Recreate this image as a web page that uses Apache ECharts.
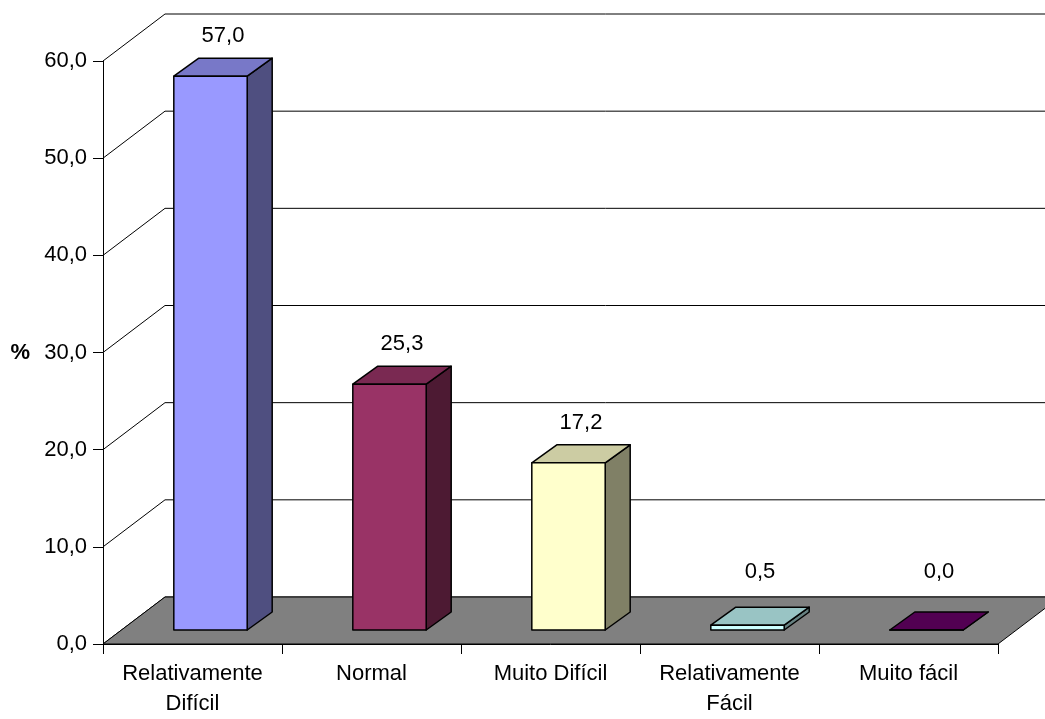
<!DOCTYPE html>
<html>
<head>
<meta charset="utf-8">
<script src="https://cdn.jsdelivr.net/npm/echarts@6/dist/echarts.min.js"></script>
<style>
html, body { margin: 0; background: #fff; }
#chart { width: 1045px; height: 719px; }
</style>
</head>
<body>
<div id="chart"></div>
<script>
var categories = ['Relativamente\nDifícil', 'Normal', 'Muito Difícil', 'Relativamente\nFácil', 'Muito fácil'];
var percents = [57.0, 25.3, 17.2, 0.5, 0.0];
var yTicks = [0, 10, 20, 30, 40, 50, 60];

// front, top, side shades for each bar
var palette = [
    ['#9999FF', '#7878C8', '#4F4F80'],
    ['#993366', '#7A2952', '#4D1A33'],
    ['#FFFFCC', '#CCCCA3', '#808066'],
    ['#CCFFFF', '#99C4C4', '#668080'],
    ['#660066', '#520052', '#330033']
];

var FONT = '"Liberation Sans", Arial, sans-serif';
var FS = 22;
var DX = 62, DY = -47;      // depth of the floor / walls
var FX = 18, FY = -14;      // bar front face shift
var BX = 25, BY = -18;      // bar depth

function fmt(v) {
    return v.toFixed(1).replace('.', ',');
}

var mychart = echarts.init(document.getElementById('chart'), null, { renderer: 'canvas' });

var option = {
    backgroundColor: '#fff',
    animation: false,
    grid: { left: 103, right: 47, top: 61, bottom: 74 },
    xAxis: {
        type: 'category',
        data: categories,
        axisLine: { lineStyle: { color: '#000', width: 1 } },
        axisTick: { show: true, length: 10, lineStyle: { color: '#000' } },
        axisLabel: { color: '#000', fontSize: FS, fontFamily: FONT, lineHeight: 30, margin: 15, interval: 0 },
        splitLine: { show: false }
    },
    yAxis: {
        type: 'value',
        min: 0,
        max: 60,
        interval: 10,
        name: '%',
        nameLocation: 'middle',
        nameRotate: 0,
        nameGap: 73,
        nameTextStyle: { color: '#000', fontSize: FS, fontWeight: 'bold', fontFamily: FONT },
        axisLine: { show: true, lineStyle: { color: '#000', width: 1 } },
        axisTick: { show: true, length: 10, lineStyle: { color: '#000' } },
        axisLabel: { color: '#000', fontSize: FS, fontFamily: FONT, margin: 16, formatter: fmt },
        splitLine: { show: false }
    },
    series: [
        {
            // back wall gridlines
            type: 'custom',
            silent: true,
            z: 1,
            data: yTicks.map(function (v) { return [0, v]; }),
            renderItem: function (params, api) {
                var cs = params.coordSys;
                var y = api.coord([0, api.value(1)])[1];
                return {
                    type: 'polyline',
                    shape: { points: [[cs.x, y], [cs.x + DX, y + DY], [cs.x + cs.width + DX + 20, y + DY]] },
                    style: { stroke: '#000', lineWidth: 1, fill: null }
                };
            }
        },
        {
            // floor
            type: 'custom',
            silent: true,
            z: 2,
            data: [[0, 0]],
            renderItem: function (params, api) {
                var cs = params.coordSys;
                var y0 = api.coord([0, 0])[1];
                return {
                    type: 'polygon',
                    shape: { points: [
                        [cs.x, y0], [cs.x + DX, y0 + DY],
                        [cs.x + cs.width + DX, y0 + DY], [cs.x + cs.width, y0]
                    ] },
                    style: { fill: '#808080', stroke: '#000', lineWidth: 1 }
                };
            }
        },
        {
            // 3d bars
            type: 'custom',
            silent: true,
            z: 3,
            data: percents.map(function (v, i) { return [i, v]; }),
            renderItem: function (params, api) {
                var i = api.value(0), v = api.value(1);
                var c = api.coord([i, v]);
                var base = api.coord([i, 0]);
                var w = api.size([1, 0])[0] * 0.41;
                var col = palette[i];
                var x0 = c[0] - w / 2 + FX, x1 = x0 + w;
                var yb = base[1] + FY, yt = c[1] + FY;
                var line = { stroke: '#000', lineWidth: 1.5, lineJoin: 'round' };
                var labelY = Math.min(yt - 40, yb - 58);
                return {
                    type: 'group',
                    children: [
                        {
                            type: 'polygon',
                            shape: { points: [[x1, yt], [x1 + BX, yt + BY], [x1 + BX, yb + BY], [x1, yb]] },
                            style: Object.assign({ fill: col[2] }, line)
                        },
                        {
                            type: 'polygon',
                            shape: { points: [[x0, yt], [x0 + BX, yt + BY], [x1 + BX, yt + BY], [x1, yt]] },
                            style: Object.assign({ fill: col[1] }, line)
                        },
                        {
                            type: 'polygon',
                            shape: { points: [[x0, yt], [x1, yt], [x1, yb], [x0, yb]] },
                            style: Object.assign({ fill: col[0] }, line)
                        },
                        {
                            type: 'text',
                            style: {
                                text: fmt(v),
                                x: (x0 + x1) / 2 + BX / 2,
                                y: labelY,
                                align: 'center',
                                verticalAlign: 'middle',
                                fill: '#000',
                                font: FS + 'px ' + FONT
                            }
                        }
                    ]
                };
            }
        }
    ]
};

mychart.setOption(option);
</script>
</body>
</html>
